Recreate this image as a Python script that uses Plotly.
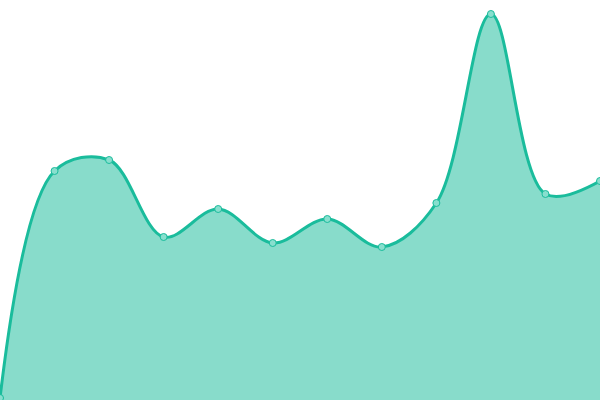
import plotly.graph_objects as go

# sample index along x (0-400 scale)
steps = list(range(12))
values = [2, 229, 240, 163, 191, 157, 181, 153, 197, 386, 206, 219]

fig = go.Figure()
fig.add_trace(go.Scatter(
    x=steps,
    y=values,
    mode='lines+markers',
    line=dict(color='#1abc9c', width=3, shape='spline', smoothing=1),
    fill='tozeroy',
    fillcolor='rgba(26,188,156,0.52)',
    marker=dict(size=7, color='#88dfce', line=dict(color='#1abc9c', width=1)),
    hoverinfo='skip',
))
fig.update_layout(
    width=600,
    height=400,
    margin=dict(l=0, r=0, t=0, b=0),
    paper_bgcolor='white',
    plot_bgcolor='white',
    showlegend=False,
    xaxis=dict(range=[0, 11], visible=False, fixedrange=True),
    yaxis=dict(range=[0, 400], visible=False, fixedrange=True),
)

# drop the default page margin so the chart sits flush in the window
fig.write_html(
    "out.html",
    config={'displayModeBar': False},
    post_script="document.body.style.margin='0'; document.body.style.overflow='hidden';",
)
